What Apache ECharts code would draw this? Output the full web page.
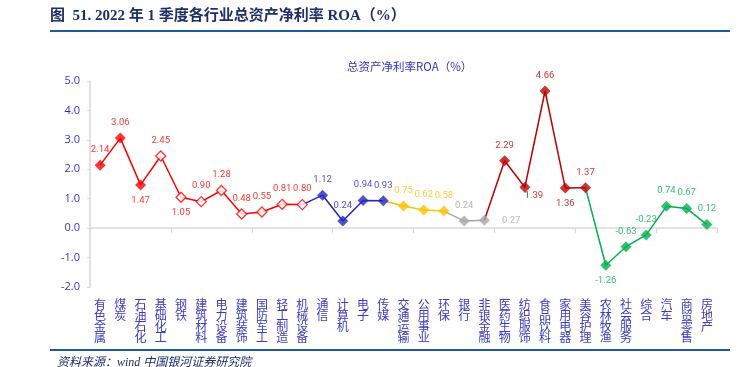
<!DOCTYPE html>
<html>
<head>
<meta charset="utf-8">
<script src="https://cdn.jsdelivr.net/npm/echarts@6/dist/echarts.min.js"></script>
<style>
  html, body { margin: 0; padding: 0; background: #fff; }
  #main { width: 752px; height: 367px; }
</style>
</head>
<body>
<div id="main"></div>
<script>
// 行业名称
var categories = ['有色金属', '煤炭', '石油石化', '基础化工', '钢铁', '建筑材料', '电力设备', '建筑装饰',
  '国防军工', '轻工制造', '机械设备', '通信', '计算机', '电子', '传媒', '交通运输', '公用事业', '环保',
  '银行', '非银金融', '医药生物', '纺织服饰', '食品饮料', '家用电器', '美容护理', '农林牧渔', '社会服务',
  '综合', '汽车', '商贸零售', '房地产']
// 2022Q1 ROA (%)
var roa = [2.14, 3.06, 1.47, 2.45, 1.05, 0.90, 1.28, 0.48, 0.55, 0.81, 0.80, 1.12, 0.24, 0.94, 0.93,
  0.75, 0.62, 0.58, 0.24, 0.27, 2.29, 1.39, 4.66, 1.36, 1.37, -1.26, -0.63, -0.23, 0.74, 0.67, 0.12]
// 颜色分组：每组起始下标
var groupStart = [0, 11, 15, 18, 20, 25]
var groupColors = ['#FF0000', '#2424C8', '#FFC000', '#A6A6A6', '#C00000', '#00B050']
// 空心点
var hollowIdx = [3, 4, 5, 6, 7, 8, 9, 10]
var yTicks = [-2, -1, 0, 1, 2, 3, 4, 5]

// 标签位置（默认 top）
var labelPos = {
  2: {position: 'bottom'},
  4: {position: 'bottom'},
  19: {position: 'right', distance: 12},
  21: {position: 'bottom', offset: [9, -7]},
  23: {position: 'bottom'},
  25: {position: 'bottom'}
}

var chart = echarts.init(document.getElementById('main'))
var n = categories.length
var series = []

for (var g = 0; g < groupStart.length; g++) {
  var s = groupStart[g]
  var e = g + 1 < groupStart.length ? groupStart[g + 1] - 1 : n - 1
  var lineData = []
  var markData = []
  for (var i = 0; i < n; i++) {
    lineData.push((i >= s - 1 && i <= e) ? roa[i] : null)
    if (i >= s && i <= e) {
      var hollow = hollowIdx.indexOf(i) >= 0
      var lp = labelPos[i] || {}
      markData.push({
        value: [i, roa[i]],
        itemStyle: hollow ? {color: '#fff', borderColor: groupColors[g], borderWidth: 1.3} : {color: groupColors[g]},
        symbolSize: hollow ? 10 : 11,
        label: {
          position: lp.position || 'top',
          distance: lp.distance || 5,
          offset: lp.offset || [0, 0]
        }
      })
    }
  }
  series.push({
    type: 'line',
    data: lineData,
    showSymbol: false,
    symbol: 'none',
    lineStyle: {color: groupColors[g], width: 1.5},
    z: 2,
    silent: true
  })
  series.push({
    type: 'scatter',
    symbol: 'diamond',
    data: markData,
    z: 3,
    label: {
      show: true,
      color: groupColors[g],
      fontSize: 9.5,
      fontFamily: 'Roboto',
      formatter: function (p) { return p.value[1].toFixed(2) }
    }
  })
}

var option = {
  animation: false,
  backgroundColor: '#fff',
  title: {
    text: '总资产净利率ROA（%）',
    left: 342,
    top: 56,
    textStyle: {color: '#3333CC', fontSize: 11.5, fontWeight: 'normal', fontFamily: 'Noto Sans CJK SC'}
  },
  grid: {left: 90, right: 35, top: 81, bottom: 80},
  xAxis: [
    {
      type: 'category',
      data: categories,
      axisLine: {onZero: false, show: false},
      axisTick: {show: false},
      axisLabel: {
        interval: 0,
        margin: 12,
        verticalAlign: 'top',
        color: '#3A3AD0',
        fontSize: 12,
        lineHeight: 11,
        fontFamily: 'Noto Sans CJK SC',
        formatter: function (v) { return v.split('').join('\n') }
      }
    },
    {
      type: 'category',
      data: categories,
      position: 'bottom',
      axisLine: {onZero: true, lineStyle: {color: '#D9D9D9', width: 1.5}},
      axisTick: {show: true, length: 5, lineStyle: {color: '#D9D9D9'}},
      axisLabel: {show: false}
    }
  ],
  yAxis: {
    type: 'value',
    min: yTicks[0],
    max: yTicks[yTicks.length - 1],
    interval: 1,
    axisLine: {show: true, lineStyle: {color: '#D9D9D9', width: 1.5}},
    axisTick: {show: true, length: 3, lineStyle: {color: '#D9D9D9'}},
    splitLine: {show: false},
    axisLabel: {
      color: '#3333CC',
      fontSize: 11,
      margin: 10,
      fontFamily: 'Open Sans',
      formatter: function (v) { return v.toFixed(1) }
    }
  },
  graphic: [
    {
      type: 'text', left: 50, top: 9,
      style: {
        text: '图  51. 2022 年 1 季度各行业总资产净利率 ROA（%）',
        fill: '#1F2D6B',
        font: 'bold 15px "Liberation Serif", "Noto Sans CJK SC"'
      }
    },
    {type: 'line', shape: {x1: 50, y1: 31, x2: 730, y2: 31}, style: {stroke: '#1F5C99', lineWidth: 2}},
    {type: 'line', shape: {x1: 50, y1: 350, x2: 730, y2: 350}, style: {stroke: '#1F5C99', lineWidth: 2}},
    {
      type: 'text', left: 57, top: 357,
      style: {
        text: '资料来源：wind 中国银河证券研究院',
        fill: '#1F2D6B',
        font: 'italic 12px "Liberation Serif", "Noto Sans CJK SC"'
      }
    }
  ],
  series: series
}

chart.setOption(option)
</script>
</body>
</html>
